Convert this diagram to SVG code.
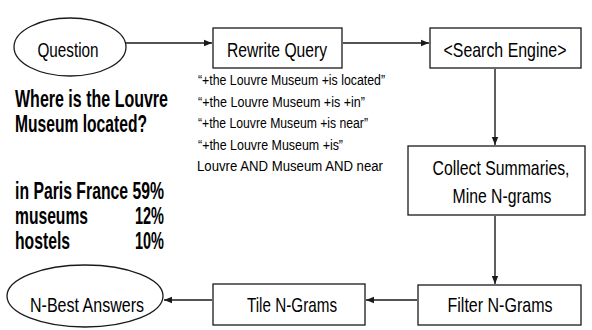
<svg xmlns="http://www.w3.org/2000/svg" width="592" height="330" viewBox="0 0 592 330">
<style>
.shape{fill:#fff;stroke:#1a1a1a;stroke-width:1.3}
.edge{fill:none;stroke:#1a1a1a;stroke-width:1.4;marker-end:url(#ah)}
.lbl{font-family:"Liberation Sans",Arial,sans-serif;font-size:20px;fill:#000;text-anchor:middle}
.q{font-family:"Liberation Sans",Arial,sans-serif;font-size:14.5px;fill:#000}
.b{font-family:"Liberation Sans",Arial,sans-serif;font-size:23px;font-weight:bold;fill:#000}
</style>
<defs>
<marker id="ah" viewBox="0 0 8 8" refX="8" refY="4" markerWidth="8" markerHeight="8" markerUnits="userSpaceOnUse" orient="auto">
<path d="M0,0.8 L8,4 L0,7.2 Z" fill="#1a1a1a"/>
</marker>
</defs>
<rect width="592" height="330" fill="#fff"/>
<g id="connectors">
<line class="edge" x1="126" y1="43" x2="212" y2="43"/>
<line class="edge" x1="343" y1="43" x2="429" y2="43"/>
<line class="edge" x1="495" y1="69" x2="495" y2="145"/>
<line class="edge" x1="495" y1="216" x2="495" y2="284"/>
<line class="edge" x1="417" y1="300" x2="366" y2="300"/>
<line class="edge" x1="212" y1="300" x2="164" y2="300"/>
</g>
<g id="question">
<ellipse class="shape" cx="70" cy="47" rx="56" ry="29"/>
<text class="lbl" transform="translate(68,57) scale(0.82,1)" textLength="74.4" lengthAdjust="spacingAndGlyphs">Question</text>
</g>
<g id="rewrite">
<rect class="shape" x="213" y="28" width="129" height="40"/>
<text class="lbl" transform="translate(277,57) scale(0.82,1)" textLength="122" lengthAdjust="spacingAndGlyphs">Rewrite Query</text>
</g>
<g id="search">
<rect class="shape" x="430" y="28" width="151" height="40"/>
<text class="lbl" transform="translate(505,57) scale(0.82,1)" textLength="150" lengthAdjust="spacingAndGlyphs">&lt;Search Engine&gt;</text>
</g>
<g id="collect">
<rect class="shape" x="408" y="146" width="177" height="69"/>
<text class="lbl" transform="translate(501,175) scale(0.82,1)" textLength="167" lengthAdjust="spacingAndGlyphs">Collect Summaries,</text>
<text class="lbl" transform="translate(502,203) scale(0.82,1)" textLength="120.7" lengthAdjust="spacingAndGlyphs">Mine N-grams</text>
</g>
<g id="filter">
<rect class="shape" x="418" y="285" width="163" height="40"/>
<text class="lbl" transform="translate(500,312) scale(0.82,1)" textLength="128" lengthAdjust="spacingAndGlyphs">Filter N-Grams</text>
</g>
<g id="tile">
<rect class="shape" x="213" y="284" width="152" height="41"/>
<text class="lbl" transform="translate(292,312) scale(0.82,1)" textLength="109.8" lengthAdjust="spacingAndGlyphs">Tile N-Grams</text>
</g>
<g id="answers">
<ellipse class="shape" cx="85" cy="296" rx="78" ry="31"/>
<text class="lbl" transform="translate(87,312) scale(0.82,1)" textLength="139" lengthAdjust="spacingAndGlyphs">N-Best Answers</text>
</g>
<g id="queries">
<text class="q" transform="translate(198,85) scale(0.85,1)" textLength="220" lengthAdjust="spacingAndGlyphs">“+the Louvre Museum +is located”</text>
<text class="q" transform="translate(198,107) scale(0.85,1)" textLength="196.5" lengthAdjust="spacingAndGlyphs">“+the Louvre Museum +is +in”</text>
<text class="q" transform="translate(198,128) scale(0.85,1)" textLength="200" lengthAdjust="spacingAndGlyphs">“+the Louvre Museum +is near”</text>
<text class="q" transform="translate(198,150) scale(0.85,1)" textLength="170.6" lengthAdjust="spacingAndGlyphs">“+the Louvre Museum +is”</text>
<text class="q" transform="translate(197,171) scale(0.85,1)" textLength="218.8" lengthAdjust="spacingAndGlyphs">Louvre AND Museum AND near</text>
</g>
<g id="question-text">
<text class="b" transform="translate(15,107) scale(0.72,1)" textLength="212.5" lengthAdjust="spacingAndGlyphs">Where is the Louvre</text>
<text class="b" transform="translate(15,132) scale(0.72,1)" textLength="183.3" lengthAdjust="spacingAndGlyphs">Museum located?</text>
</g>
<g id="results">
<text class="b" transform="translate(15,199) scale(0.72,1)" textLength="207" lengthAdjust="spacingAndGlyphs">in Paris France 59%</text>
<text class="b" transform="translate(15,224) scale(0.72,1)" textLength="101.4" lengthAdjust="spacingAndGlyphs">museums</text>
<text class="b" transform="translate(135,224) scale(0.72,1)" textLength="40.3" lengthAdjust="spacingAndGlyphs">12%</text>
<text class="b" transform="translate(15,249) scale(0.72,1)" textLength="76.4" lengthAdjust="spacingAndGlyphs">hostels</text>
<text class="b" transform="translate(135,249) scale(0.72,1)" textLength="40.3" lengthAdjust="spacingAndGlyphs">10%</text>
</g>
</svg>
